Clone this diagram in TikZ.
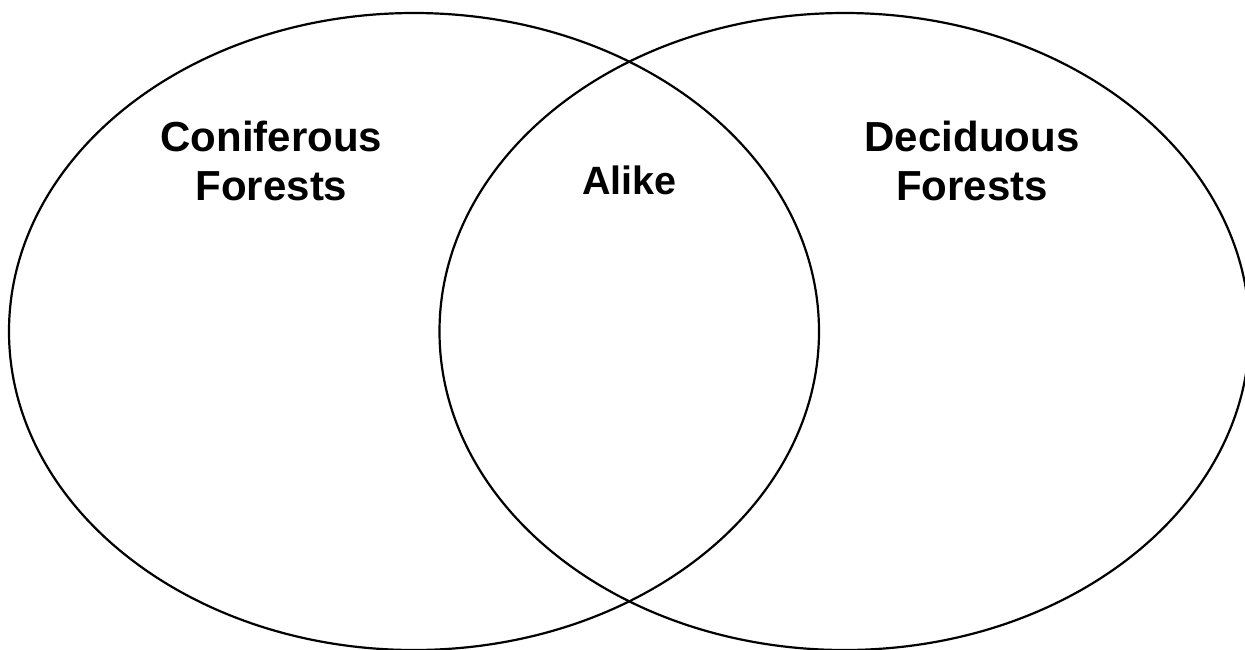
\documentclass[tikz,border=0pt]{standalone}
\usepackage{fontspec}
\setmainfont{Liberation Sans}
\usetikzlibrary{shapes.geometric}
\tikzset{
  setcircle/.style={draw=black, line width=2.2pt, ellipse, minimum width=810pt, minimum height=637pt, inner sep=0pt},
  setlabel/.style={font=\bfseries\fontsize{42}{49}\selectfont, align=center, inner sep=0pt}
}
\begin{document}
\begin{tikzpicture}[x=1pt,y=-1pt]
\useasboundingbox (0,0) rectangle (1245,649);
\clip (0,0) rectangle (1245,649);
\node[setcircle] (left) at (414,331.5) {};
\node[setcircle] (right) at (844.5,331.5) {};
\node[setlabel, anchor=base] (conif) at (271.5,200) {Coniferous\\Forests};
\node[setlabel, anchor=base] (decid) at (972,200) {Deciduous\\Forests};
\node[setlabel, anchor=base, font=\bfseries\fontsize{39.5}{47}\selectfont] (alike) at (629.5,194) {Alike};
\end{tikzpicture}
\end{document}
